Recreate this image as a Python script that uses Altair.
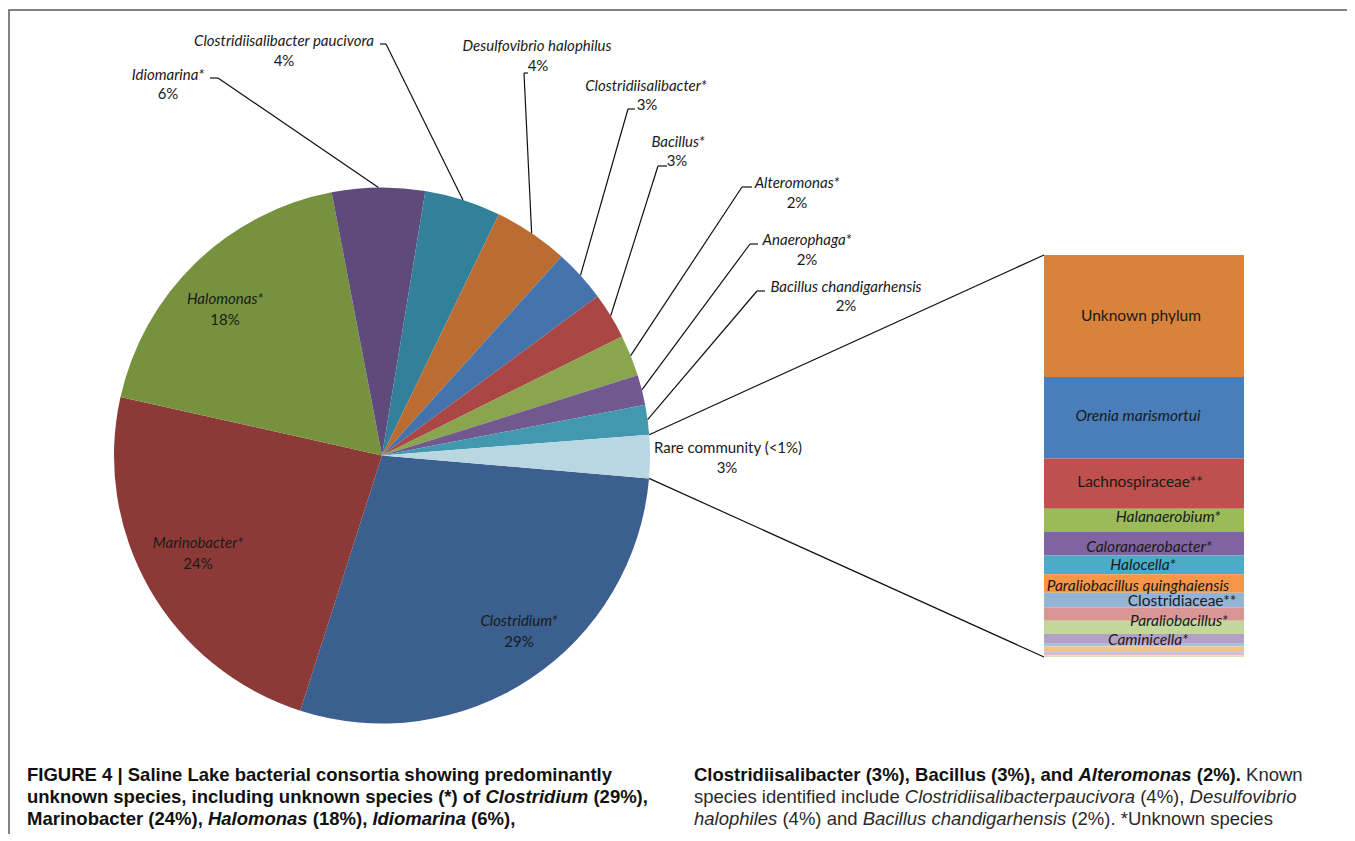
import math
import altair as alt
import pandas as pd

# ---------------- data ----------------
pie_names = ["Clostridium*", "Marinobacter*", "Halomonas*", "Idiomarina*",
             "Clostridiisalibacter paucivora", "Desulfovibrio halophilus",
             "Clostridiisalibacter*", "Bacillus*", "Alteromonas*", "Anaerophaga*",
             "Bacillus chandigarhensis", "Rare community (<1%)"]
pie_values = [28.6, 23.6, 18.5, 5.6, 4.6, 4.5, 3.2, 2.8, 2.5, 1.8, 1.8, 2.6]
pie_pct = ["29%", "24%", "18%", "6%", "4%", "4%", "3%", "3%", "2%", "2%", "2%", "3%"]
pie_italic = [True] * 11 + [False]
pie_colors = ["#3B5F8E", "#8C3A37", "#77923F", "#5E4A7B", "#32809A", "#BA6C31",
              "#4573AC", "#AA4644", "#89A54E", "#71588F", "#4198AF", "#B9D7E3"]

rare_names = ["Unknown phylum", "Orenia marismortui", "Lachnospiraceae**", "Halanaerobium*",
              "Caloranaerobacter*", "Halocella*", "Paraliobacillus quinghaiensis",
              "Clostridiaceae**", "", "Paraliobacillus*", "Caminicella*", "", "", "", "", ""]
rare_share = [30.4, 20.3, 12.5, 5.8, 5.8, 4.7, 4.6, 3.7, 3.3, 3.3, 2.2, 0.8, 1.2, 0.5, 0.6, 0.4]
rare_italic = [False, True, False, True, True, True, True, False, False, True, True,
               False, False, False, False, False]
rare_colors = ["#D9823B", "#4A7EBB", "#C0504D", "#9BBB59", "#8064A2", "#4BACC6", "#F79646",
               "#95B3D7", "#D99694", "#C3D69B", "#B3A2C7", "#93CDDD", "#FAC090", "#B9CDE5",
               "#E6B9B8", "#D7E4BD"]

caption_left = [
    [("FIGURE 4 | Saline Lake bacterial consortia showing predominantly", "b")],
    [("unknown species, including unknown species (*) of ", "b"), ("Clostridium", "bi"), (" (29%),", "b")],
    [("Marinobacter (24%), ", "b"), ("Halomonas", "bi"), (" (18%), ", "b"), ("Idiomarina", "bi"), (" (6%),", "b")],
]
caption_right = [
    [("Clostridiisalibacter (3%), Bacillus (3%), and ", "b"), ("Alteromonas", "bi"), (" (2%).", "b"), (" Known", "n")],
    [("species identified include ", "n"), ("Clostridiisalibacterpaucivora", "i"), (" (4%), ", "n"), ("Desulfovibrio", "i")],
    [("halophiles", "i"), (" (4%) and ", "n"), ("Bacillus chandigarhensis", "i"), (" (2%). *Unknown species", "n")],
]

# ---------------- layout ----------------
W, H = 1339, 826
OX, OY = 8, 8
CX, CY, R = 382, 455.5, 268
START_DEG = 94.9
BAR_X0, BAR_X1, BAR_Y0, BAR_Y1 = 1044, 1244, 255, 657
# (name centre), (pct centre), (tick near-x, tick far-x, tick y) or None
PIE_LABEL_LAYOUT = [
    ((519, 621), (519, 642), None),
    ((198, 543), (198, 564), None),
    ((225, 299), (225, 320), None),
    ((168, 75), (168, 94), (210, 218, 78)),
    ((284, 41), (284, 61), (380, 386, 44)),
    ((537, 46), (538, 66), (528, 524, 73)),
    ((646, 86), (647, 105), (635, 628, 109)),
    ((678, 142), (677, 161), (667, 658, 166)),
    ((797, 183), (797, 203), (752, 742, 187)),
    ((807, 240), (807, 260), (758, 750, 244)),
    ((846, 287), (846, 306), (765, 757, 291)),
    ((728, 448), (727, 468), None),
]
BAR_LABEL_X = [1141, 1138, 1140, 1168, 1149, 1143, 1138, 1182, 1144, 1179, 1148,
               1144, 1144, 1144, 1144, 1144]
BAR_LABEL_DY = [0, -2, -2, -3, 3, 0, 2, 1, 0, -6, 1, 0, 0, 0, 0, 0]   # pixels
CAP_LEFT_X, CAP_RIGHT_X = 27, 694
CAP_Y = [781, 803, 825]
CAP_SIZE_BOLD, CAP_SIZE_REG = 18.5, 18.5
LABEL_FONT = "Lato"
PIE_LABEL_SIZE = 15
BAR_LABEL_SIZE = 15.5
CAP_FONT = "Liberation Sans"
TXT = "#1a1a1a"

# Arial / Liberation Sans advance widths (1/1000 em) for caption run placement
_chars = "ABCDEFGHIKLMRSU"
_reg_up = [667, 667, 722, 722, 667, 611, 778, 722, 278, 667, 556, 833, 722, 667, 722]
_bold_up = [722, 722, 722, 722, 667, 611, 778, 722, 278, 722, 611, 833, 722, 667, 722]
_low = "abcdefghijklmnopqrstuvwxyz"
_reg_low = [556, 556, 500, 556, 556, 278, 556, 556, 222, 222, 500, 222, 833, 556, 556, 556,
            556, 333, 500, 278, 556, 500, 722, 500, 500, 500]
_bold_low = [556, 611, 556, 611, 556, 333, 611, 611, 278, 278, 556, 278, 889, 611, 611, 611,
             611, 389, 556, 333, 611, 556, 778, 556, 556, 500]
_sym = " |()*%,."
_reg_sym = [278, 260, 333, 333, 389, 889, 278, 278]
_bold_sym = [278, 280, 333, 333, 389, 889, 278, 278]
REG = dict(zip(_chars + _low + _sym, _reg_up + _reg_low + _reg_sym))
BOLD = dict(zip(_chars + _low + _sym, _bold_up + _bold_low + _bold_sym))
for d in "0123456789":
    REG[d] = 556
    BOLD[d] = 556


def text_width(s, bold):
    t = BOLD if bold else REG
    size = CAP_SIZE_BOLD if bold else CAP_SIZE_REG
    return sum(t.get(ch, 556) for ch in s) / 1000.0 * size


XS = alt.Scale(domain=[OX, OX + W], range=[0, W], nice=False, zero=False)
YS = alt.Scale(domain=[OY, OY + H], range=[0, H], nice=False, zero=False)


def X(f):
    return alt.X(f, type="quantitative", scale=XS, axis=None)


def Y(f):
    return alt.Y(f, type="quantitative", scale=YS, axis=None)


# ---------------- frame ----------------
frame_df = pd.DataFrame([{"x": 9, "x2": 1351, "y": 10, "y2": 900}])
frame = alt.Chart(frame_df).mark_rect(fill=None, stroke="#5a5a5a", strokeWidth=1.5).encode(
    x=X("x"), x2="x2", y=Y("y"), y2="y2")

# ---------------- pie ----------------
total = sum(pie_values)
pie_df = pd.DataFrame({"idx": list(range(len(pie_names))), "name": pie_names,
                       "value": pie_values, "color": pie_colors})
start = math.radians(START_DEG)
pie = alt.Chart(pie_df).mark_arc(radius=R).encode(
    theta=alt.Theta("value:Q", stack=True,
                    scale=alt.Scale(domain=[0, total], range=[start, start + 2 * math.pi])),
    order=alt.Order("idx:Q"),
    color=alt.Color("color:N", scale=None),
    x=alt.value(CX - OX), y=alt.value(CY - OY))

# leader lines
segs = []
cum = 0.0
for i, v in enumerate(pie_values):
    mid = math.radians(START_DEG + (cum + v / 2) / total * 360)
    ex, ey = CX + R * math.sin(mid), CY - R * math.cos(mid)
    tick = PIE_LABEL_LAYOUT[i][2]
    if tick:
        xn, xf, ty = tick
        segs.append({"x": xn, "y": ty, "x2": xf, "y2": ty})
        segs.append({"x": xf, "y": ty, "x2": ex, "y2": ey})
    cum += v
# connectors from the rare-community slice to the breakdown bar
a0 = math.radians(START_DEG + (total - pie_values[-1]) / total * 360)
a1 = math.radians(START_DEG + 360)
segs.append({"x": CX + R * math.sin(a0), "y": CY - R * math.cos(a0), "x2": BAR_X0, "y2": BAR_Y0})
segs.append({"x": CX + R * math.sin(a1), "y": CY - R * math.cos(a1), "x2": BAR_X0, "y2": BAR_Y1})
lines = alt.Chart(pd.DataFrame(segs)).mark_rule(color="#111111", strokeWidth=1.2).encode(
    x=X("x"), y=Y("y"), x2="x2", y2="y2")

# pie labels
lab_rows = []
for i, (n, p) in enumerate(zip(pie_names, pie_pct)):
    (nx, ny), (px, py), _ = PIE_LABEL_LAYOUT[i]
    lab_rows.append({"x": nx, "y": ny, "text": n, "it": pie_italic[i]})
    lab_rows.append({"x": px, "y": py, "text": p, "it": False})
lab_df = pd.DataFrame(lab_rows)


def label_layer(df, italic, size):
    return alt.Chart(df).mark_text(font=LABEL_FONT, fontSize=size, color=TXT,
                                   fontStyle="italic" if italic else "normal",
                                   align="center", baseline="middle").encode(
        x=X("x"), y=Y("y"), text="text:N")


pie_lab_it = label_layer(lab_df[lab_df["it"]], True, PIE_LABEL_SIZE)
pie_lab_n = label_layer(lab_df[~lab_df["it"]], False, PIE_LABEL_SIZE)

# ---------------- breakdown bar ----------------
rare_total = sum(rare_share)
px_to_share = rare_total / (BAR_Y1 - BAR_Y0)
bar_df = pd.DataFrame({"idx": list(range(len(rare_names))), "name": rare_names,
                       "share": rare_share, "color": rare_colors, "it": rare_italic,
                       "lx": BAR_LABEL_X, "ldy": BAR_LABEL_DY})
BS = alt.Scale(domain=[0, rare_total], range=[BAR_Y0 - OY, BAR_Y1 - OY], nice=False, zero=False)
bar_base = alt.Chart(bar_df).transform_window(
    cum="sum(share)", sort=[alt.SortField("idx")], frame=[None, 0]
).transform_calculate(
    y0="datum.cum - datum.share",
    ym=f"datum.cum - datum.share / 2 + datum.ldy * {px_to_share}")
bar = bar_base.mark_rect().encode(
    x=alt.value(BAR_X0 - OX), x2=alt.value(BAR_X1 - OX),
    y=alt.Y("y0:Q", scale=BS, axis=None), y2="cum:Q",
    color=alt.Color("color:N", scale=None))


def bar_text(italic):
    return bar_base.transform_filter(
        "datum.it" if italic else "!datum.it"
    ).transform_filter("datum.name != ''").mark_text(
        font=LABEL_FONT, fontSize=BAR_LABEL_SIZE, color=TXT,
        fontStyle="italic" if italic else "normal", align="center", baseline="middle"
    ).encode(x=X("lx"), y=alt.Y("ym:Q", scale=BS, axis=None), text="name:N")


bar_txt_it = bar_text(True)
bar_txt_n = bar_text(False)

# ---------------- caption ----------------
cap_rows = []
for x0, block in ((CAP_LEFT_X, caption_left), (CAP_RIGHT_X, caption_right)):
    for li, runs in enumerate(block):
        x = x0
        for txt, style in runs:
            bold = style.startswith("b")
            lead = len(txt) - len(txt.lstrip(" "))
            cap_rows.append({"x": x + text_width(txt[:lead], bold), "y": CAP_Y[li],
                             "text": txt.strip(" "), "style": style})
            x += text_width(txt, bold)
cap_df = pd.DataFrame(cap_rows)


def cap_layer(style):
    bold = style.startswith("b")
    return alt.Chart(cap_df[cap_df["style"] == style]).mark_text(
        font=CAP_FONT, fontSize=CAP_SIZE_BOLD if bold else CAP_SIZE_REG,
        fontWeight="bold" if bold else "normal",
        fontStyle="italic" if style.endswith("i") else "normal",
        color="#111111" if bold else "#2a2a2a",
        align="left", baseline="alphabetic"
    ).encode(x=X("x"), y=Y("y"), text="text:N")


caps = [cap_layer(s) for s in ("b", "bi", "n", "i")]

chart = alt.layer(
    frame, pie, lines, bar, bar_txt_it, bar_txt_n, pie_lab_it, pie_lab_n, *caps
).resolve_scale(x="independent", y="independent").properties(
    width=W, height=H, padding=0,
    autosize=alt.AutoSizeParams(type="none"),
    background="white"
).configure_view(stroke=None)

chart.save("out.html", embed_options={"renderer": "svg", "actions": False})
